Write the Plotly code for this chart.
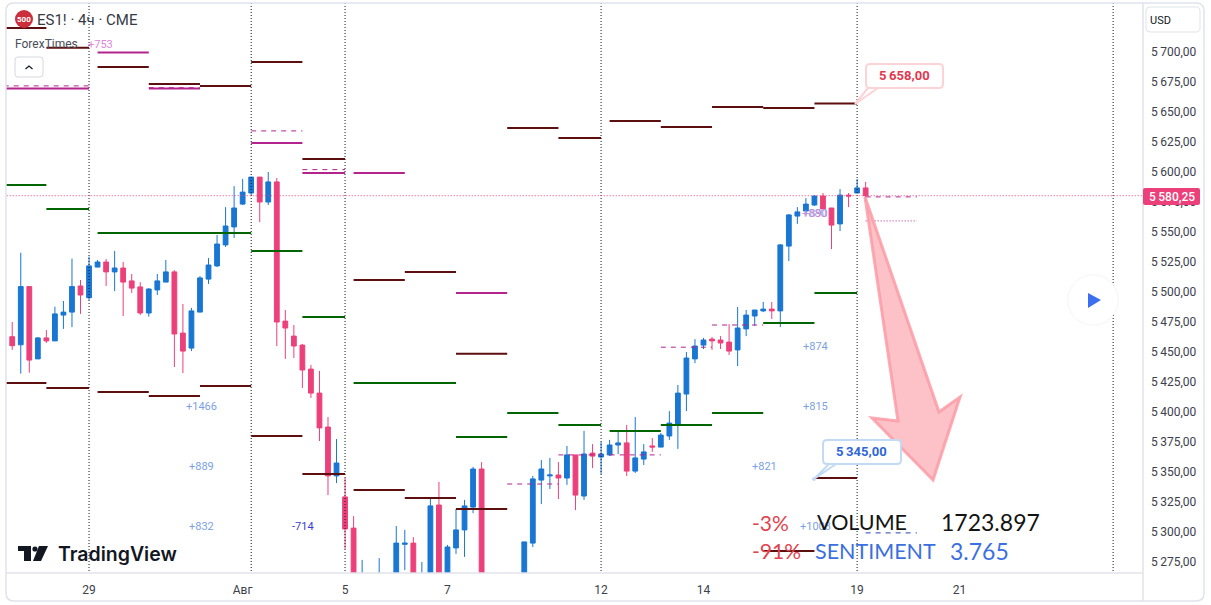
import plotly.graph_objects as go

# 4h bars, bar 0 is the "29" tick
bar_index = list(range(-9, 92))
opens = [5462.75,5456,5504.5,5444.25,5461.75,5459.25,5480.75,5483.25,5505,
    5495.25,5520.75,5525,5516.75,5520,5509.25,5504.25,5482.5,5501.75,5508.25,
    5516.75,5465.75,5453.25,5483.25,5510.75,5521.75,5539.25,5554.25,5573.25,5582.5,
    5595.75,5575,5591.75,5475.75,5463.25,5455.75,5435.75,5415.75,5387.5,5346.75,
    5329.25,5303.25,5215,5245,5235,5255,5245,5289.75,5290.75,5240,
    5255,5322.5,5255,5286.75,5301.75,5320.75,5352.5,5240,5235,5245,
    5250,5250,5290.75,5343.25,5346.75,5347.5,5345,5364.25,5330,5365.75,
    5362.5,5364.25,5372.5,5374.25,5350.75,5360.75,5371.75,5370.75,5380,5390,
    5415,5444.25,5455.75,5460.75,5460,5458.25,5451.75,5469.25,5480,5484.25,
    5485.75,5484.25,5538.25,5563.25,5567.5,5572.5,5580,5570,5556.75,5580.75,
    5582.5,5586.75]
highs = [5475,5532.75,5504.5,5462.5,5468.25,5487.75,5492.5,5527.75,5510,
    5529.5,5526.75,5527.5,5534.25,5525,5515,5508.25,5503.25,5515,5526.75,
    5518.25,5490,5486.75,5513.25,5528.25,5547.5,5570.75,5588.25,5594.25,5595.75,
    5595.75,5600,5595,5485,5472.5,5456.75,5439.25,5434.25,5395.75,5377.5,
    5345,5313.25,5276.75,5262,5278.25,5262,5305,5301.75,5295.75,5275,
    5327.5,5341.75,5289.25,5319.25,5326.75,5354.25,5358.25,5258,5255,5258,
    5255,5291.75,5346.75,5360,5361.75,5358.25,5371.75,5364.25,5384.25,5373.25,
    5375,5376.75,5384.25,5389.25,5395.75,5373.25,5378.25,5382.5,5400.75,5422.5,
    5450,5460.75,5461.75,5462.5,5463.25,5473.25,5487.5,5485,5485,5491.75,
    5491.75,5540,5565,5570.75,5578.25,5580.75,5582.5,5570,5585.75,5582.5,
    5594.25,5591.75]
lows = [5451.75,5432,5432.75,5444.25,5457.5,5459.25,5469.25,5470.75,5481.75,
    5493.25,5520.75,5505,5500.75,5480,5499.25,5480.75,5479.5,5497.5,5508.25,
    5437.5,5432.5,5450.75,5483.25,5506.75,5520.75,5537.5,5545,5572.5,5580.75,
    5558.25,5572.5,5455,5444.25,5445,5420,5411.75,5375.75,5330.75,5340.75,
    5285.75,5220,5200,5225,5225,5235,5235,5268.25,5225,5230,
    5245,5240,5250,5281.75,5279.25,5315.75,5230,5225,5225,5230,
    5235,5245,5287.5,5323.25,5335.75,5327.5,5339.25,5318.25,5326.75,5353.25,
    5348.25,5363.25,5365,5346.75,5349.25,5355.75,5366.75,5370.75,5376.75,5369.25,
    5400.75,5440.75,5452.5,5451.75,5452.5,5447.5,5438.25,5463.25,5471.75,5483.25,
    5477.5,5470.75,5525.75,5556.75,5564.25,5571.75,5569.25,5535.75,5550.75,5570.75,
    5582.5,5575]
closes = [5455.25,5504.5,5443.25,5461.75,5459.25,5481.75,5483.25,5504.5,5497.5,
    5521.75,5525,5516.75,5520,5508.25,5503.25,5482.5,5502.5,5509.25,5516.75,
    5465,5450.75,5484.25,5511.75,5522.5,5540,5555,5570,5583.25,5595.75,
    5575,5591.75,5475,5470,5455,5435,5415.75,5386.75,5346.75,5357.5,
    5302.5,5235,5245,5235,5255,5245,5290.75,5290.75,5240,5260,
    5321.75,5258,5287.5,5301.75,5321.75,5352.5,5240,5235,5245,5250,
    5240,5291.75,5344.25,5352.5,5347.5,5345,5364.25,5330.75,5365,5363.25,
    5365,5372.5,5374.25,5350.75,5361.75,5366.75,5370.75,5380.75,5390.75,5415.75,
    5445,5455,5460,5459.25,5457.5,5450.75,5470,5480.75,5485,5485.75,
    5484.25,5539.25,5564.25,5566.75,5573.25,5580,5569.25,5555.75,5580.75,5580,
    5586.75,5580.25]

# level segments: start bar, end bar, price
dark_x0 = [-10,-5,1,7,13,19,25,31,37,43,49,55,61,67,73,79,85,-10,-5,1,7,13,19,25,31,37,43,85,79]
dark_x1 = [-5,0,7,13,19,25,30,37,43,49,55,60,67,73,79,85,90,-5,0,7,13,19,25,30,37,43,49,90,85]
dark_y = [5720,5703.5,5687.5,5673.25,5671.75,5691.75,5610.75,5510,5516.75,5448.5,5636.75,5628.25,5642.5,5637.5,5654.25,5653.25,5657,
    5424.25,5420,5416.75,5413.25,5421.75,5380,5348.25,5335,5328.25,5319.25,5345,5284.25]
green_x0 = [-10,-5,1,19,25,31,43,49,55,61,67,73,79,85]
green_x1 = [-5,0,19,25,30,43,49,55,60,67,73,79,85,90]
green_y = [5589.25,5569.25,5549.25,5534.25,5479.25,5424.25,5379.25,5399.25,5389.25,5384.25,5389.25,5399.25,5474.25,5499.25]
magenta_x0 = [-10,1,7,19,25,31,43]
magenta_x1 = [0,7,13,25,30,37,49]
magenta_y = [5669.5,5699.5,5669.5,5624.25,5599.25,5599.25,5499.25]
dashed_x0 = [-10,7,19,25,49,55,61,67,73,91]
dashed_x1 = [0,13,25,30,55,60,67,73,79,97]
dashed_y = [5671.75,5670.25,5634.25,5602,5340,5364.25,5364.25,5454,5472.5,5579.25]
dotted_x0 = [91]
dotted_x1 = [97]
dotted_y = [5559.25]
navy_x0 = [91]
navy_x1 = [97]
navy_y = [5299.25]
last_price = 5580.25

session_lines = [0, 19, 30, 60, 90, 120]
x_tick_vals = [0, 18, 30, 42, 60, 72, 90, 102]
x_tick_text = ["29", "Авг", "5", "7", "12", "14", "19", "21"]
y_tick_vals = [5275,5300,5325,5350,5375,5400,5425,5450,5475,5500,5525,5550,5575,5600,5625,5650,5675,5700]
y_tick_text = ["5\u2009%s,00" % str(v)[1:] for v in y_tick_vals]

W, H = 1211, 605
FONT = "Roboto"
BIG_FONT = "Lato"
LIGHT_BLUE = "#7d9fe3"


def segments(x0s, x1s, ys):
    xs, out = [], []
    for a, b, y in zip(x0s, x1s, ys):
        xs += [a, b, None]
        out += [y, y, None]
    return xs, out


def px(x):
    return x / W


def py(y):
    return 1 - y / H


def poly(points, **kw):
    d = "M" + " L".join("%.5f,%.5f" % (px(x), py(y)) for x, y in points) + " Z"
    return dict(type="path", xref="paper", yref="paper", path=d, **kw)


def round_rect(x0, y0, x1, y1, r, **kw):
    X = lambda v: "%.5f" % px(v)
    Y = lambda v: "%.5f" % py(v)
    d = (f"M{X(x0+r)},{Y(y0)} L{X(x1-r)},{Y(y0)} Q{X(x1)},{Y(y0)} {X(x1)},{Y(y0+r)} "
         f"L{X(x1)},{Y(y1-r)} Q{X(x1)},{Y(y1)} {X(x1-r)},{Y(y1)} L{X(x0+r)},{Y(y1)} "
         f"Q{X(x0)},{Y(y1)} {X(x0)},{Y(y1-r)} L{X(x0)},{Y(y0+r)} Q{X(x0)},{Y(y0)} {X(x0+r)},{Y(y0)} Z")
    return dict(type="path", xref="paper", yref="paper", path=d, **kw)


def circle(cx, cy, r, **kw):
    return dict(type="circle", xref="paper", yref="paper", x0=px(cx-r), x1=px(cx+r),
                y0=py(cy+r), y1=py(cy-r), **kw)


def label(x, y, text, size=12, color="#131722", anchor="center", family=FONT, weight="normal"):
    # annotations carry about 2px of padding on the anchored side
    if anchor == "left":
        x -= 2
    return dict(xref="paper", yref="paper", x=px(x), y=py(y), text=text, showarrow=False,
                xanchor=anchor, yanchor="middle",
                font=dict(size=size, color=color, family=family, weight=weight))


fig = go.Figure()

# session separators and levels sit behind the candles
sx, sy = [], []
for s in session_lines:
    sx += [s, s, None]
    sy += [5200, 5800, None]
fig.add_trace(go.Scatter(x=sx, y=sy, mode="lines", line=dict(color="#131722", width=1, dash="1px,2px")))

for x0s, x1s, ys, color, width, dash in [
    (dark_x0, dark_x1, dark_y, "#5d0f0f", 2, "solid"),
    (green_x0, green_x1, green_y, "#006400", 2, "solid"),
    (magenta_x0, magenta_x1, magenta_y, "#b3248c", 2, "solid"),
    (dashed_x0, dashed_x1, dashed_y, "#b3248c", 1, "5px,5px"),
    (dotted_x0, dotted_x1, dotted_y, "#b3248c", 1, "1px,2px"),
    (navy_x0, navy_x1, navy_y, "#2a3fb0", 1, "5px,5px"),
]:
    xs, ysg = segments(x0s, x1s, ys)
    fig.add_trace(go.Scatter(x=xs, y=ysg, mode="lines", line=dict(color=color, width=width, dash=dash)))

fig.add_trace(go.Scatter(x=[-10, 124], y=[last_price, last_price], mode="lines",
                         line=dict(color="#ec407a", width=1, dash="1px,2px")))

fig.add_trace(go.Candlestick(
    x=bar_index, open=opens, high=highs, low=lows, close=closes, whiskerwidth=0,
    increasing=dict(line=dict(color="#1976d2", width=1), fillcolor="#1976d2"),
    decreasing=dict(line=dict(color="#ec407a", width=1), fillcolor="#ec407a"),
))

shapes = [
    # frame and axis rules
    round_rect(6, 3, 1204, 601, 8, line=dict(color="#e0e3eb", width=1.5)),
    dict(type="line", xref="paper", yref="paper", x0=px(6), x1=px(1143), y0=py(573), y1=py(573),
         line=dict(color="#e0e3eb", width=1.5)),
    dict(type="line", xref="paper", yref="paper", x0=px(1143), x1=px(1143), y0=py(3), y1=py(601),
         line=dict(color="#e0e3eb", width=1.5)),
    # header
    circle(24, 19, 9, fillcolor="#cc2f3c", line=dict(width=0)),
    round_rect(15, 57, 43, 77, 3, fillcolor="white", line=dict(color="#d5d8e0", width=1)),
    dict(type="path", xref="paper", yref="paper",
         path="M%.5f,%.5f L%.5f,%.5f L%.5f,%.5f" % (px(25.5), py(69), px(29), py(66), px(32.5), py(69)),
         line=dict(color="#131722", width=1.2)),
    round_rect(1146, 7, 1200, 32, 4, fillcolor="white", line=dict(color="#e0e3eb", width=1)),
    # big arrow
    poly([(865, 197), (939, 412), (960, 397), (933, 480), (872, 418), (898, 421)],
         fillcolor="rgba(252,170,178,0.72)", line=dict(color="rgba(252,155,166,0.85)", width=3)),
    # callouts
    poly([(855, 104), (868, 88), (878, 88)], fillcolor="white", line=dict(color="#fcd3d7", width=2)),
    round_rect(866, 64, 943, 88, 4, fillcolor="white", line=dict(color="#fcd3d7", width=2)),
    poly([(814, 479), (829, 464), (836, 464)], fillcolor="white", line=dict(color="#c3daf5", width=2)),
    round_rect(823, 440, 901, 464, 4, fillcolor="white", line=dict(color="#c3daf5", width=2)),
    circle(814, 479, 2, fillcolor="#c3daf5", line=dict(width=0)),
    # last price tag
    round_rect(1143, 188, 1200, 205, 2, fillcolor="#ec407a", line=dict(width=0)),
    # play button
    circle(1093, 300, 27, fillcolor="rgba(0,0,0,0.012)", line=dict(width=0)),
    circle(1093, 300, 25, fillcolor="white", line=dict(color="#f8f8f9", width=1)),
    poly([(1088, 293), (1101, 300), (1088, 308)], fillcolor="#3c6ff0", line=dict(width=0)),
    # TradingView mark
    poly([(18, 546), (31, 546), (31, 561), (24, 561), (24, 551), (18, 551)], fillcolor="#131722", line=dict(width=0)),
    circle(35, 549, 2.6, fillcolor="#131722", line=dict(width=0)),
    poly([(39, 546), (48, 546), (41, 561), (33, 561)], fillcolor="#131722", line=dict(width=0)),
]

annotations = [
    label(24, 19.5, "500", size=8, color="white", weight="bold"),
    label(37, 20, "ES1! · 4ч · CME", size=15, color="#363a45", anchor="left"),
    label(15, 44, "ForexTimes", size=12, color="#4a4e59", anchor="left"),
    label(1150, 20, "USD", size=11, color="#131722", anchor="left"),
    label(58, 554, "TradingView", size=19.5, color="#131722", anchor="left", family="Inter", weight=600),
    label(100, 45, "+753", size=11, color="#dc85dc"),
    label(201, 406, "+1466", size=11, color=LIGHT_BLUE),
    label(201, 466, "+889", size=11, color=LIGHT_BLUE),
    label(201, 526, "+832", size=11, color=LIGHT_BLUE),
    label(303, 526, "-714", size=11, color="#3a3ad0"),
    label(815, 346, "+874", size=11, color=LIGHT_BLUE),
    label(815, 406, "+815", size=11, color=LIGHT_BLUE),
    label(764, 466, "+821", size=11, color=LIGHT_BLUE),
    label(815, 526, "+1003", size=11, color=LIGHT_BLUE),
    label(815, 213, "+890", size=11, color=LIGHT_BLUE),
    label(814, 213, "+880", size=11, color="#cf8ad8"),
    label(905, 76, "5\u2009658,00", size=13, color="#e0394f", weight="bold"),
    label(862, 451.5, "5\u2009345,00", size=13, color="#2f66d8", weight="bold"),
    label(1172, 197, "5\u2009580,25", size=12, color="white", weight=500),
    label(770, 522, "-3%", size=21, color="#e0444f", family=BIG_FONT),
    label(776, 550, "-91%", size=21, color="#e0444f", family=BIG_FONT),
    label(817, 522, "VOLUME", size=21.5, color="#131313", anchor="left", family=BIG_FONT),
    label(941, 522, "1723.897", size=23, color="#131313", anchor="left", family=BIG_FONT),
    label(815, 551, "SENTIMENT", size=21.5, color="#3c6fe0", anchor="left", family=BIG_FONT),
    label(950, 551, "3.765", size=23, color="#3c6fe0", anchor="left", family=BIG_FONT),
]

fig.update_layout(
    width=W, height=H, showlegend=False, plot_bgcolor="white", paper_bgcolor="white",
    margin=dict(l=0, r=0, t=0, b=0), shapes=shapes, annotations=annotations, boxgap=0.2,
    font=dict(family=FONT, size=12, color="#131722"),
    xaxis=dict(domain=[px(6), px(1143)], range=[-9.73, 123.5], rangeslider=dict(visible=False),
               tickmode="array", tickvals=x_tick_vals, ticktext=x_tick_text, ticklabelstandoff=8,
               showgrid=False, zeroline=False, ticks="", tickfont=dict(size=12, color="#3c404b")),
    yaxis=dict(domain=[py(573), py(3)], range=[5265.83, 5740.83], side="right",
               tickmode="array", tickvals=y_tick_vals, ticktext=y_tick_text, ticklabelstandoff=7,
               showgrid=False, zeroline=False, ticks="", tickfont=dict(size=12, color="#3c404b")),
)

fig.write_html("out.html", config=dict(displayModeBar=False), post_script="document.body.style.margin='0'")
